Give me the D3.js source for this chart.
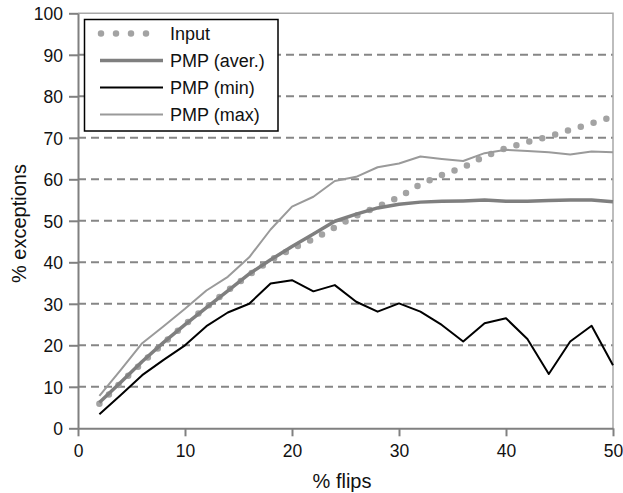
<!DOCTYPE html>
<html>
<head>
<meta charset="utf-8">
<script src="https://cdn.jsdelivr.net/npm/d3@7"></script>
<style>
  body { margin: 0; background: #fff; }
  text { font-family: "Liberation Sans", Arial, sans-serif; }
</style>
</head>
<body>
<script>
const flips = [2, 4, 6, 8, 10, 12, 14, 16, 18, 20, 22, 24, 26, 28, 30, 32, 34, 36, 38, 40, 42, 44, 46, 48, 50]
const input = [5.9, 11, 15.8, 20.5, 25, 29.2, 33.2, 37, 40.5, 43.3, 45.6, 48.4, 51.2, 53.4, 55.7, 58.8, 61, 62.9, 65.5, 67.5, 69, 70.3, 71.9, 73.5, 75.1]
const pmpAver = [6.2, 11.1, 16.1, 20.7, 25, 29.1, 33.1, 37.2, 40.6, 43.8, 46.8, 49.9, 51.6, 53.1, 54, 54.5, 54.7, 54.8, 55, 54.7, 54.7, 54.9, 55, 55, 54.6]
const pmpMin = [3.4, 8, 12.8, 16.5, 20, 24.6, 27.9, 30, 34.9, 35.7, 33, 34.5, 30.5, 28.1, 30.1, 28.1, 24.9, 20.9, 25.3, 26.5, 21.5, 13.1, 20.9, 24.7, 15.2]
const pmpMax = [7.8, 14.1, 20.5, 24.6, 28.8, 33.2, 36.5, 41.2, 47.9, 53.4, 55.8, 59.6, 60.6, 62.9, 63.8, 65.5, 64.9, 64.4, 66.3, 67.1, 66.8, 66.5, 66, 66.7, 66.5]
const xTicks = [0, 10, 20, 30, 40, 50]
const yTicks = [0, 10, 20, 30, 40, 50, 60, 70, 80, 90, 100]

const series = [
  { name: 'Input', values: input, color: '#a3a3a3', width: 6.5, dash: '0 13.4' },
  { name: 'PMP (aver.)', values: pmpAver, color: '#7f7f7f', width: 3.5 },
  { name: 'PMP (min)', values: pmpMin, color: '#000000', width: 2 },
  { name: 'PMP (max)', values: pmpMax, color: '#9a9a9a', width: 2 }
]

let svg = d3
  .select('body')
  .append('svg')
  .attr('width', 623)
  .attr('height', 493)

let x = d3.scaleLinear().domain([0, 50]).range([78, 613])
let y = d3.scaleLinear().domain([0, 100]).range([428.3, 13.3])

// grid
svg.append('g')
  .selectAll('line')
  .data(yTicks.filter(d => d > 0 && d < 100))
  .join('line')
  .attr('x1', x(0))
  .attr('x2', x(50))
  .attr('y1', d => y(d))
  .attr('y2', d => y(d))
  .attr('stroke', '#868686')
  .attr('stroke-width', 2)
  .attr('stroke-dasharray', '8 5')

// top and right frame
svg.append('path')
  .attr('d', `M${x(0)},${y(100)}H${x(50)}V${y(0)}`)
  .attr('fill', 'none')
  .attr('stroke', '#a8a8a8')
  .attr('stroke-width', 1.5)

let xAxis = svg.append('g')
  .attr('transform', `translate(0,${y(0)})`)
  .call(d3.axisBottom(x).tickValues(xTicks).tickSize(8).tickSizeOuter(0))
let yAxis = svg.append('g')
  .attr('transform', `translate(${x(0)},0)`)
  .call(d3.axisLeft(y).tickValues(yTicks).tickSize(9).tickSizeOuter(0))

for (const ax of [xAxis, yAxis]) {
  ax.select('.domain').attr('stroke', '#808080').attr('stroke-width', 2)
  ax.selectAll('.tick line').attr('stroke', '#808080').attr('stroke-width', 2)
  ax.selectAll('.tick text')
    .attr('fill', '#111')
    .style('font-size', '17.5px')
    .style('font-family', '"Liberation Sans", Arial, sans-serif')
}
xAxis.selectAll('.tick text').attr('dy', null).attr('y', 28.5)
yAxis.selectAll('.tick text').attr('x', -15).attr('dy', '0.36em')

// lines
let line = d3.line()
  .x((d, i) => x(flips[i]))
  .y(d => y(d))

svg.append('g')
  .selectAll('path')
  .data(series)
  .join('path')
  .attr('d', d => line(d.values))
  .attr('fill', 'none')
  .attr('stroke', d => d.color)
  .attr('stroke-width', d => d.width)
  .attr('stroke-linecap', d => d.dash ? 'round' : 'butt')
  .attr('stroke-linejoin', 'round')
  .attr('stroke-dasharray', d => d.dash || null)

// legend
let legend = svg.append('g')
legend.append('rect')
  .attr('x', 84.5)
  .attr('y', 19.5)
  .attr('width', 193.5)
  .attr('height', 111.5)
  .attr('fill', '#fff')
  .attr('stroke', '#000')
  .attr('stroke-width', 1.5)

let items = legend.selectAll('g.item')
  .data(series)
  .join('g')
  .attr('class', 'item')
  .attr('transform', (d, i) => `translate(0,${33.5 + i * 27})`)

items.append('line')
  .attr('x1', d => d.dash ? 101 : 100)
  .attr('x2', d => d.dash ? 161 : 163)
  .attr('stroke', d => d.color)
  .attr('stroke-width', d => d.width)
  .attr('stroke-linecap', d => d.dash ? 'round' : 'butt')
  .attr('stroke-dasharray', d => d.dash ? '0 15' : null)

items.append('text')
  .attr('x', 170)
  .attr('y', 6.5)
  .style('font-size', '18px')
  .attr('fill', '#111')
  .text(d => d.name)

// axis titles
svg.append('text')
  .attr('x', 342)
  .attr('y', 488)
  .attr('text-anchor', 'middle')
  .style('font-size', '20px')
  .attr('fill', '#111')
  .text('% flips')

svg.append('text')
  .attr('transform', 'translate(26,223.5) rotate(-90)')
  .attr('text-anchor', 'middle')
  .style('font-size', '20px')
  .attr('fill', '#111')
  .text('% exceptions')
</script>
</body>
</html>
